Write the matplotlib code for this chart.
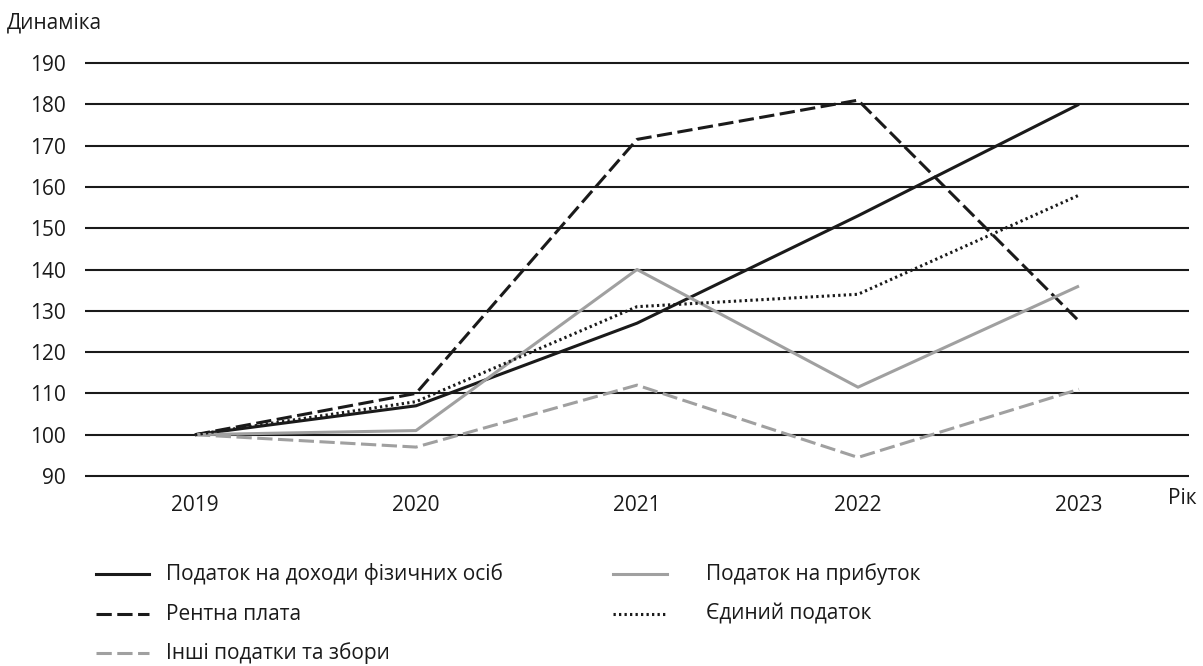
import matplotlib.pyplot as plt
from matplotlib.lines import Line2D

plt.rcParams['font.family'] = ['Open Sans', 'DejaVu Sans']

# ---------- data ----------
years = [2019, 2020, 2021, 2022, 2023]
pdfo = [100, 107, 127, 153, 180]          # Податок на доходи фізичних осіб
rent = [100, 110, 171.5, 181, 127.5]      # Рентна плата
profit = [100, 101, 140, 111.5, 136]      # Податок на прибуток
single = [100, 108, 131, 134, 158]        # Єдиний податок
other = [100, 97, 112, 94.5, 111]         # Інші податки та збори
yticks = list(range(90, 200, 10))

GRAY = "#a0a0a0"
BLACK = "#1a1a1a"
FS = 15
LW = 2.2

series = [
    ("Податок на доходи фізичних осіб", pdfo, dict(color=BLACK, lw=LW, ls="-")),
    ("Рентна плата", rent, dict(color=BLACK, lw=LW, ls=(0, (5.0, 1.8)))),
    ("Інші податки та збори", other, dict(color=GRAY, lw=LW, ls=(0, (5.0, 1.8)))),
    ("Податок на прибуток", profit, dict(color=GRAY, lw=LW, ls="-")),
    ("Єдиний податок", single, dict(color=BLACK, lw=LW, ls=(0, (0.75, 1.05)))),
]

fig = plt.figure(figsize=(12.03, 6.66), dpi=100)
W, H = 1203, 666
# axes box in pixels: x 85..1189, gridlines 190 at y=63, 90 at y=476
ax = fig.add_axes([85 / W, 1 - 478 / H, (1189 - 85) / W, (478 - 61) / H])

for name, vals, st in series:
    ax.plot(years, vals, solid_capstyle="butt", dash_capstyle="butt", zorder=3, **st)

for y in yticks:
    ax.axhline(y, color=BLACK, lw=1.5, zorder=1)

pad = 100 / 413 * 2
ax.set_ylim(90 - pad, 190 + pad)
ax.set_xlim(2019 - 110 / 221, 2023 + 110 / 221)
ax.set_yticks(yticks)
ax.set_xticks(years)
ax.tick_params(length=0, labelsize=FS, colors="#1a1a1a")
ax.tick_params(axis="y", pad=14)
ax.tick_params(axis="x", pad=12)
for s in ax.spines.values():
    s.set_visible(False)

fig.text(7 / W, 1 - 23 / H, "Динаміка", fontsize=FS, va="center", ha="left", color="#1a1a1a")
fig.text(1168 / W, 1 - 498 / H, "Рік", fontsize=FS, va="center", ha="left", color="#1a1a1a")

# ---------- legend (manual, figure coords) ----------
leg_pos = [
    (96, 149, 166, 574),
    (96, 149, 166, 614),
    (96, 149, 166, 653),
    (613, 667, 706, 574),
    (613, 667, 706, 614),
]
for (name, vals, st), (x0, x1, tx, ty) in zip(series, leg_pos):
    fig.add_artist(Line2D([x0 / W, x1 / W], [1 - ty / H, 1 - ty / H],
                          transform=fig.transFigure, dash_capstyle="butt", **st))
    fig.text(tx / W, 1 - ty / H, name, fontsize=FS, va="center", ha="left", color="#1a1a1a")

fig.savefig("out.png", dpi=100)
